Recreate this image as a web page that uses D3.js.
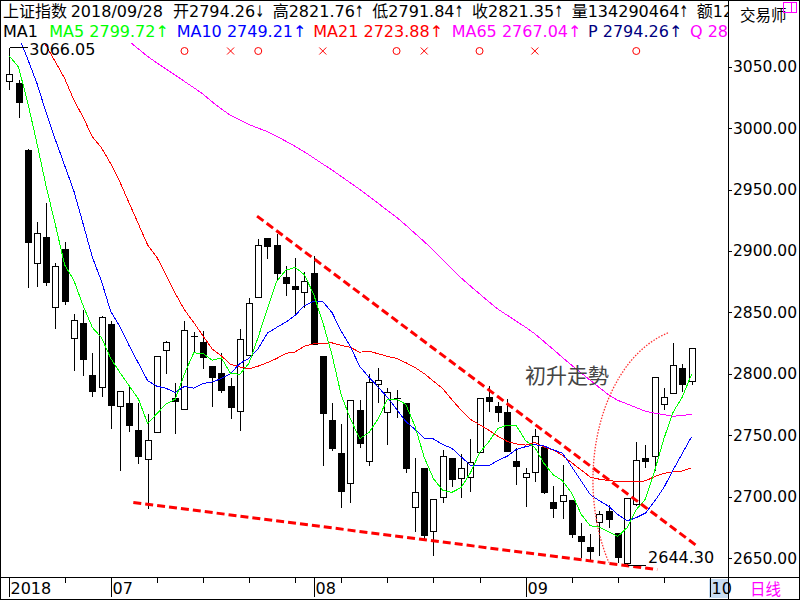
<!DOCTYPE html>
<html>
<head>
<meta charset="utf-8">
<script src="https://d3js.org/d3.v7.min.js"></script>
<style>
body { margin: 0; background: #fff; }
svg { display: block; font-family: "DejaVu Sans", "Noto Sans CJK SC", sans-serif; }
</style>
</head>
<body>
<div id="chart"></div>
<script>
// 上证指数 日K线 2018/06/14 - 2018/09/28
var opens = [3038, 3036.5, 2982, 2890, 2911, 2854.6, 2902, 2829.3, 2841, 2799,
    2789.4, 2840.5, 2774, 2776.2, 2754.2, 2731, 2752.3, 2819.3, 2780.5, 2771,
    2830.4, 2825.6, 2806, 2800.3, 2790, 2769.4, 2815, 2862.2, 2910.3, 2904.8,
    2878.5, 2871.4, 2866.5, 2882.3, 2814.4, 2762.3, 2735.2, 2711.2, 2770.4, 2729.2,
    2791.4, 2768.6, 2780.5, 2776.4, 2691.2, 2723, 2672.1, 2699.8, 2731.1, 2714.8,
    2716.1, 2736, 2781, 2773.7, 2769.1, 2728.9, 2716.1, 2720.2, 2740.6, 2695.8,
    2696.3, 2697.2, 2667.8, 2659.1, 2679, 2688.2, 2670.8, 2646, 2694.4, 2731.6,
    2733.2, 2775.3, 2784.5, 2804.4, 2794.26];
var highs = [3066.05, 3040, 2984, 2924, 2939.6, 2891, 2908, 2849.2, 2853, 2817.4,
    2847.8, 2844, 2786, 2792, 2777, 2767.8, 2815.2, 2827.4, 2793.5, 2843.7,
    2834.8, 2836, 2806, 2817.4, 2797.5, 2837.5, 2862.2, 2910.3, 2911.6, 2914.3,
    2888.5, 2894.8, 2883.6, 2896.7, 2814.4, 2777.2, 2759.6, 2779, 2779.4, 2800.3,
    2805.2, 2789.4, 2787.3, 2777, 2732.4, 2723, 2698, 2738.5, 2731.1, 2735.2,
    2747.4, 2780, 2790.8, 2777.8, 2780, 2740.6, 2724.3, 2755.5, 2740.6, 2709.4,
    2727, 2697.2, 2679.5, 2670.8, 2689.1, 2694.4, 2670.8, 2699.8, 2745.2, 2742.5,
    2797.5, 2789, 2826, 2809.2, 2821.76];
var lows = [3032, 3009, 2871, 2871.7, 2872, 2837, 2857, 2803, 2799, 2782,
    2782, 2756, 2721.6, 2753.6, 2727.5, 2690.4, 2752.3, 2800.3, 2752, 2771,
    2817.9, 2804.4, 2774, 2785.3, 2764, 2754, 2815, 2862.2, 2894, 2876.3,
    2864.1, 2849.7, 2854.6, 2824.2, 2725.6, 2737.9, 2691.7, 2695.3, 2740.6, 2725.6,
    2777.2, 2742.5, 2765, 2720.2, 2672.1, 2665.4, 2652.4, 2695.3, 2708.6, 2699.8,
    2704.7, 2736, 2769.6, 2761.5, 2737, 2710, 2692.3, 2712.9, 2703, 2683.6,
    2682.7, 2667.3, 2651, 2648.3, 2652.9, 2675.4, 2646.9, 2644.3, 2693, 2723.8,
    2721.6, 2771, 2784.5, 2785.9, 2791.84];
var closes = [3044, 3021.5, 2907.5, 2914.3, 2875, 2888, 2859, 2844, 2812, 2786,
    2846, 2775, 2786, 2758, 2733, 2746, 2814.4, 2826, 2777.5, 2836,
    2831, 2813.6, 2797.5, 2787, 2772.6, 2828, 2858, 2904.6, 2904, 2882,
    2873.6, 2869, 2875.4, 2824.5, 2768, 2740, 2705, 2779, 2744, 2793,
    2794.9, 2785, 2780, 2723, 2704, 2668.7, 2698, 2733, 2714, 2723.5,
    2728, 2780, 2777.5, 2769, 2737, 2725, 2719.5, 2749.5, 2704, 2691,
    2701, 2669.5, 2664, 2656, 2686, 2681.5, 2651, 2699, 2730, 2729,
    2797.5, 2781, 2806.8, 2791.8, 2821.35];

// 均线
var ma5 = [3058.7, 3049.7, 3020.7, 2987.6, 2952.5, 2921.3, 2888.8, 2876.1, 2855.6, 2837.8,
    2829.4, 2812.6, 2801, 2790.2, 2779.6, 2759.6, 2767.5, 2775.5, 2779.4, 2800,
    2817, 2816.8, 2811.1, 2813, 2800.3, 2799.7, 2808.6, 2830, 2853.4, 2875.3,
    2884.4, 2886.6, 2880.8, 2864.9, 2842.1, 2815.4, 2782.6, 2763.3, 2747.2, 2752.2,
    2763.2, 2779.2, 2779.4, 2775.2, 2757.4, 2732.1, 2714.7, 2705.3, 2703.5, 2707.4,
    2719.3, 2735.7, 2744.6, 2755.6, 2758.3, 2757.7, 2745.6, 2740, 2727, 2717.8,
    2713, 2703, 2685.9, 2676.3, 2675.3, 2671.4, 2667.7, 2674.7, 2689.5, 2698.1,
    2721.3, 2747.3, 2768.9, 2781.2, 2799.7];
var ma10 = [3079.9, 3074.6, 3056.2, 3036.4, 3012.4, 2990.5, 2969.7, 2948.9, 2922.2, 2895.1,
    2875.3, 2850.7, 2838.5, 2822.9, 2808.7, 2794.5, 2790, 2788.2, 2784.8, 2789.8,
    2788.3, 2792.2, 2793.3, 2796.2, 2800.2, 2808.4, 2812.7, 2820.6, 2833.2, 2837.8,
    2842.1, 2847.6, 2855.4, 2859.2, 2858.7, 2849.9, 2834.6, 2822.1, 2806.1, 2797.2,
    2789.3, 2780.9, 2771.3, 2761.2, 2754.8, 2747.7, 2747, 2742.4, 2739.4, 2732.4,
    2725.7, 2725.2, 2725, 2729.6, 2732.9, 2738.5, 2740.7, 2742.3, 2741.3, 2738.1,
    2735.4, 2724.3, 2713, 2701.7, 2696.6, 2692.2, 2685.4, 2680.3, 2682.9, 2686.7,
    2696.4, 2707.5, 2721.8, 2735.4, 2748.9];
var ma21 = [3100, 3094, 3088, 3080, 3067, 3054, 3040.5, 3023, 3009, 2993,
    2984, 2971, 2956, 2939, 2922, 2905, 2895, 2880.5, 2865.5, 2852,
    2841.9, 2830.9, 2820.3, 2814.5, 2807.8, 2805.6, 2804.1, 2806.3, 2809.2, 2812.5,
    2816.7, 2817.8, 2822.5, 2824.4, 2824.8, 2825.2, 2823.2, 2821.5, 2817.6, 2818.4,
    2816.4, 2814.2, 2812.6, 2809.1, 2805.1, 2800.2, 2794, 2788, 2779, 2770.4,
    2763, 2758.6, 2754.2, 2749.1, 2745, 2742.9, 2742, 2744.1, 2740.5, 2738,
    2733.6, 2727.6, 2721.9, 2716, 2714.2, 2713.1, 2712.3, 2712.3, 2712.2, 2712.9,
    2716.4, 2719, 2720.2, 2720.9, 2723.4];
var ma65 = [null, null, null, null, null, null, null, null, null, null,
    null, null, 3076.8, 3070.7, 3064.5, 3058.4, 3053.1, 3048.1, 3043.1, 3038,
    3033, 3027.7, 3021.4, 3015.6, 3010.4, 3006.7, 3002.9, 3000, 2997.1, 2993.3,
    2989.3, 2985.2, 2980.7, 2975.8, 2970.8, 2965.9, 2960.7, 2955.4, 2950.2, 2944.5,
    2938.8, 2933.1, 2927.4, 2921, 2914.3, 2907.6, 2900.6, 2893.1, 2885.5, 2878.1,
    2871.5, 2865.1, 2858.8, 2852.6, 2847.7, 2842.8, 2837.9, 2832.6, 2826.2, 2819.8,
    2813.3, 2806.9, 2800.9, 2794.8, 2788.8, 2782.9, 2778.4, 2775.5, 2772.5, 2769.5,
    2768, 2766.7, 2765.5, 2766.1, 2767.0];

// 坐标刻度
var priceTicks = [2650, 2700, 2750, 2800, 2850, 2900, 2950, 3000, 3050];
var monthLabels = ["2018", "07", "08", "09", "10"];
var monthIdx = [0, 11, 33, 56, 76];
var weekIdx = [6, 16, 21, 26, 31, 36, 41, 46, 51, 61, 66, 71];

// 买卖信号 ○ / ×
var buyIdx = [19, 27, 42, 51, 68];
var sellIdx = [24, 34, 45, 57];

// 顶部信息栏
var volume = "134290464";
var quoteArrows = ["↓", "↑", "↑", "↑", "↑"];
var legendNames = ["MA5", "MA10", "MA21", "MA65", "P", "Q"];
var legendValues = ["2799.72", "2749.21", "2723.88", "2767.04", "2794.26", "28"];
var legendArrows = ["↑", "↑", "↑", "↑", "↑", ""];

// 画线工具 (日序号, 点位)
var upperTrend = [[26.87, 2928.4], [74.7, 2659.2]];
var lowerTrend = [[13.45, 2695.3], [70.28, 2640.7]];
var breakoutArc = { i: 74.15, v: 2713.4, ri: 10.85, rv: 123.8, a0: 104.5, a1: 212.7 };
var noteText = { i: 55.93, v: 2792.4, t: "初升走勢" };

var W = 800, H = 600;
var plotRight = 728, plotTop = 43, plotBottom = 577;

var svg = d3.select("#chart")
    .append("svg")
    .attr("width", W)
    .attr("height", H);

var x = d3.scaleLinear().domain([0, 74]).range([9.3, 691.6]);
var y = d3.scaleLinear().domain([2650, 3050]).range([558.1, 66.7]);
var px = function (v) { return Math.round(v) + 0.5; };

var defs = svg.append("defs");
defs.append("clipPath").attr("id", "plotClip")
    .append("rect")
    .attr("x", 1).attr("y", plotTop)
    .attr("width", plotRight - 1).attr("height", plotBottom - plotTop);
defs.append("clipPath").attr("id", "headClip")
    .append("rect")
    .attr("x", 0).attr("y", 0)
    .attr("width", plotRight).attr("height", plotTop);

var plot = svg.append("g").attr("clip-path", "url(#plotClip)");

// K线
var candles = closes.map(function (c, i) {
    return { i: i, o: opens[i], h: highs[i], l: lows[i], c: c };
});
var cg = plot.append("g").attr("shape-rendering", "crispEdges");
cg.selectAll("line.wick")
    .data(candles)
    .enter()
    .append("line")
    .attr("class", "wick")
    .attr("x1", function (d) { return px(x(d.i)); })
    .attr("x2", function (d) { return px(x(d.i)); })
    .attr("y1", function (d) { return px(y(d.h)); })
    .attr("y2", function (d) { return px(y(d.l)); })
    .attr("stroke", "#000");
cg.selectAll("rect.body")
    .data(candles)
    .enter()
    .append("rect")
    .attr("class", "body")
    .attr("x", function (d) { return Math.round(x(d.i)) - 2.5; })
    .attr("y", function (d) { return px(y(Math.max(d.o, d.c))); })
    .attr("width", 6)
    .attr("height", function (d) {
        return Math.max(Math.round(y(Math.min(d.o, d.c))) - Math.round(y(Math.max(d.o, d.c))), 0.01);
    })
    .attr("fill", function (d) { return d.c >= d.o ? "#fff" : "#000"; })
    .attr("stroke", "#000");

// 均线
var maLine = d3.line()
    .defined(function (d) { return d != null; })
    .x(function (d, i) { return x(i); })
    .y(function (d) { return y(d); });
var maSeries = [[ma65, "#ff00ff"], [ma21, "#ff0000"], [ma10, "#0000ff"], [ma5, "#00ff00"]];
maSeries.forEach(function (s) {
    plot.append("path")
        .datum(s[0])
        .attr("d", maLine)
        .attr("fill", "none")
        .attr("stroke", s[1])
        .attr("stroke-width", 1)
        .attr("shape-rendering", "crispEdges");
});

// 趋势线
[upperTrend, lowerTrend].forEach(function (t) {
    plot.append("line")
        .attr("x1", x(t[0][0])).attr("y1", y(t[0][1]))
        .attr("x2", x(t[1][0])).attr("y2", y(t[1][1]))
        .attr("stroke", "#ff0000")
        .attr("stroke-width", 3)
        .attr("stroke-dasharray", "8,4");
});

// 椭圆弧
var cx = x(breakoutArc.i), cy = y(breakoutArc.v);
var rx = x(breakoutArc.ri) - x(0), ry = y(breakoutArc.v - breakoutArc.rv) - cy;
var a0 = breakoutArc.a0 * Math.PI / 180, a1 = breakoutArc.a1 * Math.PI / 180;
plot.append("path")
    .attr("d", "M" + (cx + rx * Math.cos(a0)) + "," + (cy - ry * Math.sin(a0)) +
        "A" + rx + "," + ry + " 0 0 0 " + (cx + rx * Math.cos(a1)) + "," + (cy - ry * Math.sin(a1)))
    .attr("fill", "none")
    .attr("stroke", "#ff3030")
    .attr("stroke-width", 1.3)
    .attr("stroke-dasharray", "1.5,1.5");

plot.append("text")
    .attr("x", x(noteText.i))
    .attr("y", y(noteText.v))
    .attr("font-family", "Noto Sans CJK TC")
    .attr("font-size", 21)
    .attr("fill", "#444")
    .text(noteText.t);

// 买卖信号
var sigY = 51;
plot.selectAll("circle.buy")
    .data(buyIdx)
    .enter()
    .append("circle")
    .attr("cx", function (d) { return x(d); })
    .attr("cy", sigY)
    .attr("r", 3.5)
    .attr("fill", "none")
    .attr("stroke", "#ff0000");
sellIdx.forEach(function (d) {
    var sx = x(d);
    plot.append("path")
        .attr("d", "M" + (sx - 3.5) + "," + (sigY - 3.5) + "L" + (sx + 3.5) + "," + (sigY + 3.5) +
            "M" + (sx + 3.5) + "," + (sigY - 3.5) + "L" + (sx - 3.5) + "," + (sigY + 3.5))
        .attr("stroke", "#ff0000");
});

// 最高/最低标注
var hiIdx = d3.maxIndex(highs), loIdx = d3.minIndex(lows);
plot.append("path")
    .attr("d", "M" + px(x(hiIdx)) + "," + px(y(highs[hiIdx])) + "H" + (px(x(hiIdx)) + 18))
    .attr("stroke", "#000").attr("shape-rendering", "crispEdges");
plot.append("text")
    .attr("x", x(hiIdx) + 20).attr("y", y(highs[hiIdx]) + 8.5)
    .attr("font-size", 16).attr("fill", "#000")
    .text(highs[hiIdx].toFixed(2));
plot.append("path")
    .attr("d", "M" + px(x(loIdx)) + "," + px(y(lows[loIdx])) + "H" + (px(x(loIdx)) + 18))
    .attr("stroke", "#000").attr("shape-rendering", "crispEdges");
plot.append("text")
    .attr("x", x(loIdx) + 21).attr("y", y(lows[loIdx]) - 2)
    .attr("font-size", 16).attr("fill", "#000")
    .text(lows[loIdx].toFixed(2));

// 顶部信息栏
var head = svg.append("g").attr("clip-path", "url(#headClip)").attr("font-size", 16);
var last = closes.length - 1;
head.append("text").attr("x", 3).attr("y", 16.5).attr("fill", "#000").text("上证指数");
head.append("text").attr("x", 70.7).attr("y", 16.5).attr("fill", "#000").text("2018/09/28");
var quotes = [
    "开" + opens[last].toFixed(2),
    "高" + highs[last].toFixed(2),
    "低" + lows[last].toFixed(2),
    "收" + closes[last].toFixed(2),
    "量" + volume
];
var qx = 173;
quotes.forEach(function (q, k) {
    var t = head.append("text").attr("x", qx).attr("y", 16.5).attr("fill", "#000").text(q);
    var w = t.node().getComputedTextLength();
    // 箭头紧跟数值，压缩为半角宽度
    head.append("text")
        .attr("x", qx + w).attr("y", 16.5).attr("fill", "#000")
        .attr("textLength", 9).attr("lengthAdjust", "spacingAndGlyphs")
        .text(quoteArrows[k]);
    qx += w + 9 + 8.5;
});
head.append("text").attr("x", qx).attr("y", 16.5).attr("fill", "#000").text("额12");

head.append("text").attr("x", 3).attr("y", 36.5).attr("fill", "#000").text("MA1");
var legendX = [49.3, 176.7, 313.3, 451.7, 588, 690];
var legendColor = ["#00ff00", "#0000ff", "#ff0000", "#ff00ff", "#000080", "#ff00ff"];
legendNames.forEach(function (n, k) {
    head.append("text")
        .attr("x", legendX[k]).attr("y", 36.5)
        .attr("fill", legendColor[k])
        .text(n + " " + legendValues[k] + legendArrows[k]);
});

// 右侧坐标
var axisG = svg.append("g").attr("font-size", 15.5);
axisG.selectAll("line.tick")
    .data(priceTicks)
    .enter()
    .append("line")
    .attr("x1", plotRight).attr("x2", plotRight + 4)
    .attr("y1", function (d) { return px(y(d)); })
    .attr("y2", function (d) { return px(y(d)); })
    .attr("stroke", "#000")
    .attr("shape-rendering", "crispEdges");
axisG.selectAll("text.tick")
    .data(priceTicks)
    .enter()
    .append("text")
    .attr("x", plotRight + 5)
    .attr("y", function (d) { return y(d) + 5.5; })
    .attr("fill", "#000")
    .text(function (d) { return d.toFixed(2); });

svg.append("text").attr("x", 740).attr("y", 21).attr("font-size", 15.5).attr("fill", "#000").text("交易师");
svg.append("path")
    .attr("d", "M783.5,2.5H796.5V12.5H783.5Z M791.5,2.5V12.5")
    .attr("fill", "none").attr("stroke", "#ff00ff").attr("shape-rendering", "crispEdges");

// 日期坐标
var dateG = svg.append("g").attr("shape-rendering", "crispEdges");
dateG.append("rect")
    .attr("x", x(monthIdx[4]) - 1).attr("y", plotBottom + 2)
    .attr("width", plotRight - x(monthIdx[4]) + 1).attr("height", 19)
    .attr("fill", "#c9ddf2");
dateG.selectAll("line.week")
    .data(weekIdx)
    .enter()
    .append("line")
    .attr("x1", function (d) { return px(x(d)); })
    .attr("x2", function (d) { return px(x(d)); })
    .attr("y1", plotBottom).attr("y2", plotBottom + 6)
    .attr("stroke", "#000");
dateG.selectAll("line.month")
    .data(monthIdx)
    .enter()
    .append("line")
    .attr("x1", function (d) { return px(x(d)); })
    .attr("x2", function (d) { return px(x(d)); })
    .attr("y1", plotBottom).attr("y2", plotBottom + 20)
    .attr("stroke", "#000");
svg.selectAll("text.month")
    .data(monthIdx)
    .enter()
    .append("text")
    .attr("x", function (d) { return px(x(d)) + 1; })
    .attr("y", 594)
    .attr("font-size", 16)
    .attr("fill", "#000")
    .text(function (d, k) { return monthLabels[k]; });
svg.append("text").attr("x", 750).attr("y", 595).attr("font-size", 15.5).attr("fill", "#ff00ff").text("日线");

// 边框
var frame = svg.append("g").attr("stroke", "#000").attr("fill", "none").attr("shape-rendering", "crispEdges");
frame.append("rect").attr("x", 0.5).attr("y", 0.5).attr("width", W - 1).attr("height", H - 1);
frame.append("line").attr("x1", 0).attr("x2", W).attr("y1", plotBottom + 0.5).attr("y2", plotBottom + 0.5);
frame.append("line").attr("x1", plotRight + 0.5).attr("x2", plotRight + 0.5).attr("y1", 0).attr("y2", H);
</script>
</body>
</html>
